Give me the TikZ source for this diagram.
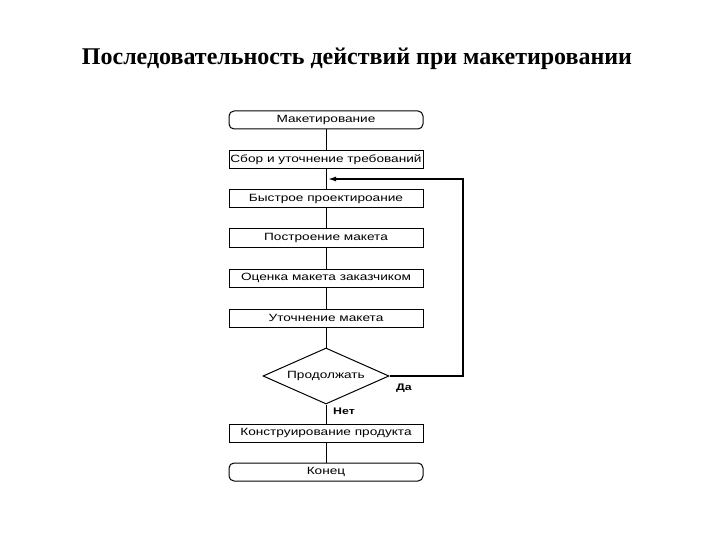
\documentclass[tikz,border=0pt]{standalone}
\usepackage{fontspec}
\setmainfont{Liberation Serif}
\newfontfamily\boxfont[FakeStretch=1.3]{Liberation Sans}
\usetikzlibrary{shapes.geometric,arrows.meta}
\begin{document}
\begin{tikzpicture}[x=1pt,y=-1pt,
  stepbox/.style={draw,line width=1pt,minimum width=194pt,minimum height=18pt,inner sep=0pt,font=\boxfont\fontsize{10.5}{12}\selectfont},
  termbox/.style={stepbox,rounded corners=5pt},
  decbox/.style={draw,line width=1pt,diamond,aspect=2.25,minimum width=126pt,minimum height=56pt,inner sep=0pt,font=\boxfont\fontsize{10.5}{12}\selectfont},
  conn/.style={line width=0.9pt},
  lbl/.style={font=\boxfont\bfseries\fontsize{9.5}{11}\selectfont,inner sep=0pt}]
\useasboundingbox (0,0) rectangle (720,540);
\node[font=\bfseries\fontsize{24}{29}\selectfont] (title) at (357,59) {Последовательность действий при макетировании};
\node[termbox] (n1) at (326,120) {Макетирование};
\node[stepbox] (n2) at (326,159.5) {Сбор и уточнение требований};
\node[stepbox] (n3) at (326,199) {Быстрое проектироание};
\node[stepbox] (n4) at (326,238) {Построение макета};
\node[stepbox] (n5) at (326,278) {Оценка макета заказчиком};
\node[stepbox] (n6) at (326,318) {Уточнение макета};
\node[decbox] (d) at (326,376) {Продолжать};
\node[stepbox] (n7) at (326,433) {Конструирование продукта};
\node[termbox] (n8) at (326,472) {Конец};
\coordinate (a1) at (463,376);
\coordinate (a2) at (463,179);
\coordinate (a3) at (328,179);
\draw[conn] (n1) -- (n2);
\draw[conn] (n2) -- (n3);
\draw[conn] (n3) -- (n4);
\draw[conn] (n4) -- (n5);
\draw[conn] (n5) -- (n6);
\draw[conn] (n6) -- (d);
\draw[conn] (d) -- (n7);
\draw[conn] (n7) -- (n8);
\draw[line width=1.5pt,-{Latex[length=8pt,width=5pt]}] (d.east) -- (a1) -- (a2) -- (a3);
\node[lbl] (da) at (404,388) {Да};
\node[lbl] (net) at (344,411) {Нет};
\end{tikzpicture}
\end{document}
